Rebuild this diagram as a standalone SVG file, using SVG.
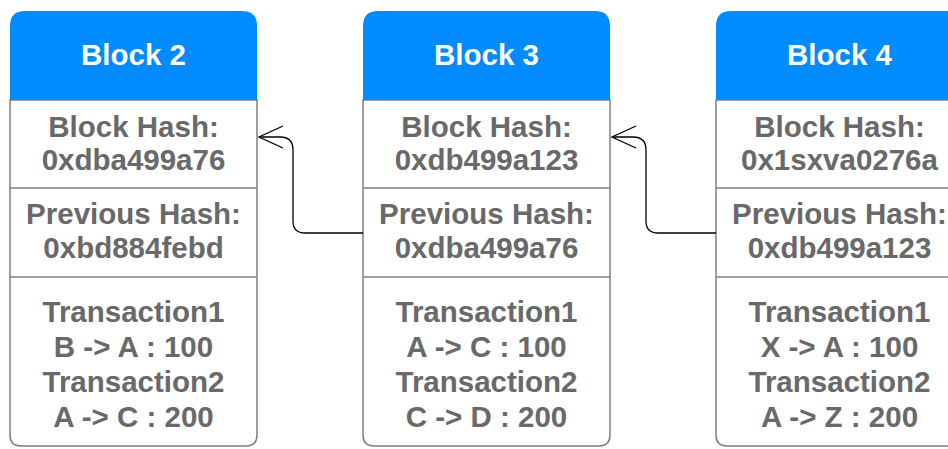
<svg xmlns="http://www.w3.org/2000/svg" width="948" height="449" viewBox="0 0 948 449">
<style>
.box{fill:#ffffff;stroke:#808080;stroke-width:1.5}
.hdr{fill:#008cff}
.div{stroke:#808080;stroke-width:1.5}
.title{font-family:"Liberation Sans",Arial,sans-serif;font-weight:bold;font-size:29.5px;fill:#ffffff;text-anchor:middle}
.t{font-family:"Liberation Sans",Arial,sans-serif;font-weight:bold;font-size:29.5px;fill:#696969;text-anchor:middle}
.conn{fill:none;stroke:#000000;stroke-width:1.3}
</style>
<defs>
<marker id="open" viewBox="0 0 26 24" refX="25" refY="12" markerWidth="26" markerHeight="24" markerUnits="userSpaceOnUse" orient="auto">
<path d="M1,1 L25,12 L1,23" fill="none" stroke="#000" stroke-width="1.3"/>
</marker>
</defs>
<g id="block2">
<path class="box" d="M10,100 V435 Q10,446 21,446 H246 Q257,446 257,435 V100 Z"/>
<path class="hdr" d="M10,100 V26 Q10,11 25,11 H242 Q257,11 257,26 V100 Z"/>
<line class="div" x1="10" y1="188" x2="257" y2="188"/>
<line class="div" x1="10" y1="277" x2="257" y2="277"/>
<text class="title" x="133.5" y="65">Block 2</text>
<text class="t" x="133.5" y="137">Block Hash:</text>
<text class="t" x="133.5" y="170">0xdba499a76</text>
<text class="t" x="133.5" y="224">Previous Hash:</text>
<text class="t" x="133.5" y="258">0xbd884febd</text>
<text class="t" x="133.5" y="322">Transaction1</text>
<text class="t" x="133.5" y="357">B -&gt; A : 100</text>
<text class="t" x="133.5" y="392">Transaction2</text>
<text class="t" x="133.5" y="427">A -&gt; C : 200</text>
</g>
<g id="block3">
<path class="box" d="M363,100 V435 Q363,446 374,446 H599 Q610,446 610,435 V100 Z"/>
<path class="hdr" d="M363,100 V26 Q363,11 378,11 H595 Q610,11 610,26 V100 Z"/>
<line class="div" x1="363" y1="188" x2="610" y2="188"/>
<line class="div" x1="363" y1="277" x2="610" y2="277"/>
<text class="title" x="486.5" y="65">Block 3</text>
<text class="t" x="486.5" y="137">Block Hash:</text>
<text class="t" x="486.5" y="170">0xdb499a123</text>
<text class="t" x="486.5" y="224">Previous Hash:</text>
<text class="t" x="486.5" y="258">0xdba499a76</text>
<text class="t" x="486.5" y="322">Transaction1</text>
<text class="t" x="486.5" y="357">A -&gt; C : 100</text>
<text class="t" x="486.5" y="392">Transaction2</text>
<text class="t" x="486.5" y="427">C -&gt; D : 200</text>
</g>
<g id="block4">
<path class="box" d="M716,100 V435 Q716,446 727,446 H952 Q963,446 963,435 V100 Z"/>
<path class="hdr" d="M716,100 V26 Q716,11 731,11 H948 Q963,11 963,26 V100 Z"/>
<line class="div" x1="716" y1="188" x2="963" y2="188"/>
<line class="div" x1="716" y1="277" x2="963" y2="277"/>
<text class="title" x="839.5" y="65">Block 4</text>
<text class="t" x="839.5" y="137">Block Hash:</text>
<text class="t" x="839.5" y="170">0x1sxva0276a</text>
<text class="t" x="839.5" y="224">Previous Hash:</text>
<text class="t" x="839.5" y="258">0xdb499a123</text>
<text class="t" x="839.5" y="322">Transaction1</text>
<text class="t" x="839.5" y="357">X -&gt; A : 100</text>
<text class="t" x="839.5" y="392">Transaction2</text>
<text class="t" x="839.5" y="427">A -&gt; Z : 200</text>
</g>
<g id="connectors">
<path class="conn" d="M363,233 H305 Q293,233 293,221 V150 Q293,137 280,137 H259" marker-end="url(#open)"/>
<path class="conn" d="M716,233 H658 Q646,233 646,221 V150 Q646,137 633,137 H612" marker-end="url(#open)"/>
</g>
</svg>
